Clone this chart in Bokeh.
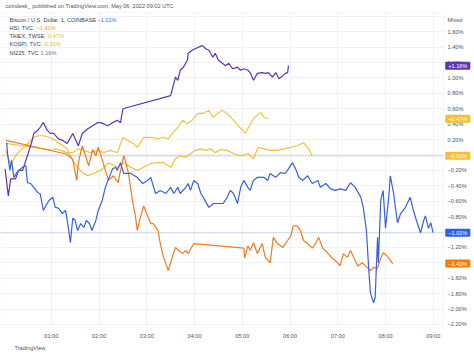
from bokeh.plotting import figure
from bokeh.models import Range1d, FixedTicker, Label, BoxAnnotation, Title
from bokeh.core.properties import value
from bokeh.embed import file_html
from bokeh.resources import INLINE

# ---- data (minutes after 00:00 UTC, % change) ----
btc_t = [4, 5, 8, 10, 13, 16, 19, 24, 28, 30,
         34, 38, 43, 46, 50, 57, 62, 65, 69, 74,
         78, 82, 84, 87, 90, 93, 97, 101, 104, 108,
         111, 116, 119, 124, 128, 132, 137, 141, 143, 147,
         151, 153, 160, 168, 175, 181, 185, 191, 197, 204,
         210, 214, 219, 222, 229, 232, 235, 239, 244, 248,
         251, 258, 264, 273, 276, 281, 285, 289, 294, 298,
         302, 307, 310, 314, 319, 327, 332, 335, 342, 348,
         354, 358, 363, 367, 371, 376, 382, 388, 395, 398,
         405, 411, 417, 423, 430, 436, 442, 449, 452, 456,
         459, 461, 465, 467, 470, 471, 474, 477, 480, 484,
         486, 490, 495, 499, 505, 511, 515, 520, 524, 528,
         530, 534, 537, 539, 540]
btc_v = [0.16, 0.02, -0.20, -0.07, -0.29, -0.24, -0.20, -0.16, -0.14, -0.36,
         -0.37, -0.42, -0.49, -0.50, -0.72, -0.59, -0.55, -0.68, -0.69, -0.76,
         -0.72, -0.98, -1.14, -0.82, -0.85, -0.98, -0.89, -0.94, -0.85, -0.89,
         -0.98, -0.85, -0.72, -0.59, -0.42, -0.31, -0.18, -0.16, -0.20, -0.10,
         -0.24, -0.24, -0.24, -0.29, -0.37, -0.33, -0.29, -0.50, -0.46, -0.50,
         -0.42, -0.50, -0.42, -0.50, -0.42, -0.37, -0.46, -0.33, -0.37, -0.50,
         -0.55, -0.68, -0.63, -0.63, -0.63, -0.55, -0.46, -0.50, -0.63, -0.42,
         -0.33, -0.42, -0.46, -0.33, -0.29, -0.29, -0.33, -0.24, -0.29, -0.23,
         -0.24, -0.18, -0.10, -0.18, -0.29, -0.33, -0.27, -0.37, -0.33, -0.42,
         -0.37, -0.44, -0.46, -0.44, -0.46, -0.36, -0.42, -0.55, -0.68, -0.98,
         -1.50, -1.79, -1.92, -1.85, -1.07, -1.40, -0.59, -0.46, -0.95, -0.55,
         -0.27, -0.49, -0.88, -0.76, -0.68, -0.55, -0.72, -0.89, -1.01, -0.85,
         -0.79, -0.95, -0.88, -0.98, -1.01]

hsi_t = [3, 80, 87, 92, 94, 99, 103, 107, 112, 116,
         119, 124, 128, 132, 138, 144, 147, 151, 153, 157,
         162, 166, 168, 172, 176, 181, 185, 188, 194, 197,
         201, 207, 212, 216, 220, 225, 229, 232, 239, 302,
         303, 307, 310, 314, 319, 325, 329, 335, 339, 344,
         351, 357, 361, 364, 369, 373, 377, 382, 388, 392,
         396, 401, 407, 413, 417, 423, 427, 432, 436, 440,
         445, 451, 457, 461, 465, 470, 474, 477, 482, 489]
hsi_v = [0.19, 0.01, -0.06, -0.33, -0.10, 0.12, -0.01, -0.14, 0.07, -0.01,
         0.10, -0.06, -0.20, -0.33, -0.27, -0.36, -0.20, -0.01, -0.07, -0.24,
         -0.59, -0.81, -0.98, -0.81, -0.66, -0.79, -0.89, -0.89, -0.98, -1.15,
         -1.33, -1.50, -1.33, -1.20, -1.24, -1.28, -1.24, -1.28, -1.15, -1.21,
         -1.34, -1.18, -1.24, -1.14, -1.28, -1.15, -1.33, -1.40, -1.07, -1.15,
         -1.20, -1.11, -1.05, -0.92, -0.92, -0.98, -1.11, -1.15, -1.21, -1.15,
         -1.07, -1.21, -1.27, -1.34, -1.37, -1.44, -1.28, -1.33, -1.24, -1.33,
         -1.44, -1.40, -1.46, -1.50, -1.46, -1.47, -1.34, -1.27, -1.31, -1.41]

taiex_t = [3, 62, 65, 72, 80, 87, 94, 101, 109, 118,
           126, 134, 143, 150, 156, 163, 168, 172, 176, 185,
           194, 201, 207, 212, 219, 225, 231, 237, 244, 251,
           258, 263, 269, 275, 279, 283, 289, 295, 304, 308,
           314, 319, 323, 327, 333]
taiex_v = [0.15, 0.06, 0.08, 0.06, 0.03, 0.03, 0.08, 0.06, 0.03, 0.06,
           0.03, 0.06, 0.03, 0.23, 0.19, 0.15, 0.10, 0.16, 0.23, 0.23,
           0.21, 0.23, 0.21, 0.28, 0.36, 0.45, 0.41, 0.45, 0.54, 0.54,
           0.58, 0.49, 0.54, 0.58, 0.55, 0.52, 0.45, 0.38, 0.28, 0.36,
           0.47, 0.52, 0.55, 0.49, 0.47]

kospi_t = [3, 9, 15, 21, 30, 38, 44, 50, 57, 65,
           72, 80, 87, 93, 99, 106, 113, 122, 131, 134,
           143, 151, 160, 168, 176, 185, 194, 201, 210, 216,
           222, 229, 235, 241, 248, 254, 260, 266, 273, 281,
           289, 298, 307, 314, 320, 327, 335, 344, 353, 361,
           369, 377, 382, 388]
kospi_v = [0.06, -0.14, -0.01, 0.06, 0.14, 0.23, 0.25, 0.25, 0.23, 0.19,
           0.14, 0.08, -0.07, -0.16, -0.23, -0.27, -0.24, -0.20, -0.11, -0.11,
           -0.16, -0.10, -0.16, -0.20, -0.16, -0.11, -0.10, -0.10, -0.16, -0.05,
           -0.01, -0.03, 0.02, 0.06, 0.08, 0.06, 0.08, 0.03, 0.07, 0.06,
           0.02, -0.01, 0.02, -0.05, 0.10, 0.08, 0.06, 0.06, 0.08, 0.10,
           0.12, 0.16, 0.10, -0.01]

n225_t = [2, 6, 9, 15, 19, 24, 28, 31, 36, 38,
          43, 46, 50, 55, 59, 63, 69, 74, 80, 87,
          90, 94, 99, 106, 112, 118, 122, 131, 137, 143,
          147, 150, 210, 214, 216, 219, 222, 226, 231, 232,
          237, 241, 245, 250, 254, 258, 263, 266, 270, 275,
          279, 283, 288, 294, 298, 302, 307, 310, 314, 319,
          325, 329, 333, 338, 342, 346, 351, 354, 357, 358]
n225_v = [-0.18, -0.53, -0.31, -0.31, -0.20, -0.20, -0.07, 0.02, 0.19, 0.28,
          0.32, 0.36, 0.42, 0.32, 0.28, 0.28, 0.21, 0.19, 0.15, 0.28,
          0.21, 0.12, 0.28, 0.34, 0.38, 0.42, 0.42, 0.38, 0.42, 0.45,
          0.42, 0.60, 0.77, 0.93, 1.01, 0.97, 1.10, 1.14, 1.23, 1.32,
          1.36, 1.38, 1.40, 1.42, 1.38, 1.36, 1.27, 1.32, 1.23, 1.19,
          1.16, 1.19, 1.12, 1.14, 1.10, 1.12, 1.10, 1.07, 0.97, 1.06,
          1.07, 1.06, 1.07, 1.01, 1.07, 0.99, 1.03, 1.06, 1.07, 1.16]

series_names = ["Bitcoin / U.S. Dollar, 1, COINBASE", "HSI, TVC", "TAIEX, TWSE",
                "KOSPI, TVC", "NI225, TVC"]

hour_ticks = [60, 120, 180, 240, 300, 360, 420, 480, 540]
hour_labels = ["01:00", "02:00", "03:00", "04:00", "05:00", "06:00", "07:00", "08:00", "09:00"]
pct_ticks = [-2.2, -2.0, -1.8, -1.6, -1.4, -1.2, -1.0, -0.8, -0.6, -0.4, -0.2,
             0.0, 0.2, 0.4, 0.6, 0.8, 1.0, 1.2, 1.4, 1.6]

header = "coindesk_ published on TradingView.com, May 06, 2022 09:02 UTC"
scale_unit = "Mixed"
footer = "TradingView"

# ---- layout constants (data units) ----
X_START, X_END = -3.8, 591.8      # whole canvas width
X_PANE = 552.9                    # right edge of the chart pane
Y_BOT, Y_TOP = -2.24, 2.006
Y_PANE = 1.851                    # top edge of the chart pane
X_SCALE_TXT = 557.9
X_BADGE = 555.0

FONT = "Liberation Sans"
FS = "5.6px"
c_btc, c_hsi, c_taiex, c_kospi, c_n225 = "#3a5fd9", "#ef7d1f", "#f3c443", "#f2bf36", "#5a34b0"
legend_val_colors = ["#3a6fd9", "#f59a2e", "#e8bf2a", "#e8b820", "#7a68b8"]
badge_colors = ["#2f5fe6", "#f57c00", "#f7bf30", "#f7bf30", "#5e35b1"]

p = figure(width=474, height=358, x_range=Range1d(X_START, X_END),
           y_range=Range1d(Y_BOT, Y_TOP), output_backend="svg", toolbar_location=None,
           y_axis_location=None, min_border_left=0, min_border_right=0,
           min_border_top=0, min_border_bottom=31,
           background_fill_color="white", border_fill_color="white")
p.outline_line_color = None

p.xaxis.ticker = FixedTicker(ticks=hour_ticks)
p.xaxis.major_label_overrides = dict(zip(hour_ticks, hour_labels))
p.xaxis.major_tick_line_color = None
p.xaxis.minor_tick_line_color = None
p.xaxis.major_tick_out = 0
p.xaxis.major_tick_in = 0
p.xaxis.axis_line_color = None
p.xaxis.major_label_text_font = FONT
p.xaxis.major_label_text_font_size = FS
p.xaxis.major_label_text_color = "#50535e"
p.xaxis.major_label_standoff = 5

p.xgrid.grid_line_color = "#f0f2f6"
p.ygrid.ticker = FixedTicker(ticks=pct_ticks + [1.8])
p.ygrid.grid_line_color = "#f0f2f6"
p.xgrid.cross_bounds = (Y_BOT, Y_PANE)
p.ygrid.cross_bounds = (X_START, X_PANE)

# chart pane border
p.add_layout(BoxAnnotation(left=X_START, right=X_PANE, bottom=Y_BOT, top=Y_PANE,
                           fill_alpha=0, line_color="#e0e3eb", line_width=1))

# price lines at last values
p.segment(x0=[X_START], x1=[X_PANE], y0=[btc_v[-1]], y1=[btc_v[-1]],
          line_color="#cdd5ea", line_width=1)
p.segment(x0=[X_START], x1=[X_PANE], y0=[kospi_v[-1]], y1=[kospi_v[-1]],
          line_color="#dcdee4", line_width=1.5)

p.line(kospi_t, kospi_v, line_color=c_kospi, line_width=1.2)
p.line(taiex_t, taiex_v, line_color=c_taiex, line_width=1.2)
p.line(hsi_t, hsi_v, line_color=c_hsi, line_width=1.2)
p.line(n225_t, n225_v, line_color=c_n225, line_width=1.2)
p.line(btc_t, btc_v, line_color=c_btc, line_width=1.2)

# price scale labels
def pct_text(v, plus=False):
    s = f"{v:+.2f}%" if plus else f"{v:.2f}%"
    return s.replace("-", "\u2212")

p.text(x=[X_SCALE_TXT] * len(pct_ticks), y=pct_ticks, text=[pct_text(v) for v in pct_ticks],
       text_font=value(FONT), text_font_size=FS, text_color="#50535e",
       text_baseline="middle", text_align="left")
p.add_layout(Label(x=X_SCALE_TXT, y=1.747, text=scale_unit, text_font=FONT, text_font_size=FS,
                   text_color="#50535e", text_baseline="middle"))

last_vals = [btc_v[-1], hsi_v[-1], taiex_v[-1], kospi_v[-1], n225_v[-1]]

# header
p.add_layout(Label(x=2.5, y=1.929, text=header, text_font=FONT, text_font_size=FS,
                   text_color="#50535e", text_baseline="middle"))

# legend rows
row_y = [1.756, 1.643, 1.543, 1.439, 1.327]
val_x = [118, 41.5, 56.0, 47.7, 46.5]
for name, v, ry, vx, vc in zip(series_names, last_vals, row_y, val_x, legend_val_colors):
    p.add_layout(Label(x=7.5, y=ry, text=name, text_font=FONT, text_font_size=FS,
                       text_color="#3b3e47", text_baseline="middle"))
    p.add_layout(Label(x=vx, y=ry, text=pct_text(v), text_font=FONT, text_font_size=FS,
                       text_color=vc, text_baseline="middle"))

# badges on the price scale
for v, bc in zip(last_vals, badge_colors):
    p.add_layout(Label(x=X_BADGE, y=v, text=pct_text(v, True), text_font=FONT,
                       text_font_size=FS, text_color="white", text_baseline="middle",
                       background_fill_color=bc,
                       padding=dict(left=3, right=3, top=1, bottom=1), border_radius=1))

# footer
p.add_layout(Title(text=footer, align="left", offset=14, text_font=FONT, text_font_size=FS,
                   text_font_style="normal", text_color="#50535e", standoff=2), "below")

open("out.html", "w").write(file_html(p, INLINE))
